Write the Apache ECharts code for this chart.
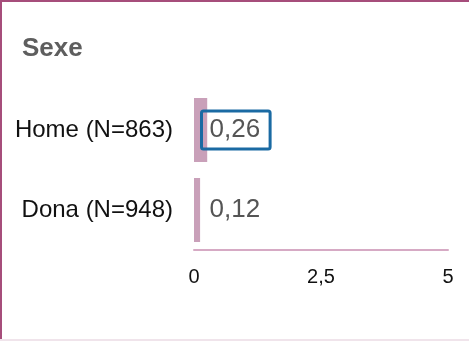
<!DOCTYPE html>
<html>
<head>
<meta charset="utf-8">
<script src="https://cdn.jsdelivr.net/npm/echarts@6/dist/echarts.min.js"></script>
<style>
html,body{margin:0;padding:0;background:#fff;}
#chart{width:469px;height:341px;}
</style>
</head>
<body>
<div id="chart"></div>
<script>
var title = 'Sexe';
var categories = ['Home (N=863)', 'Dona (N=948)'];
var values = [0.26, 0.12];
var highlighted = [true, false];
var axisMin = 0, axisMax = 5, axisInterval = 2.5;

function fmt(v){ return String(v).replace('.', ','); }

var chart = echarts.init(document.getElementById('chart'), null, {renderer:'canvas'});
var font = '"Liberation Sans", Arial, sans-serif';

var data = values.map(function(v, i){
  var item = {value: v};
  if (highlighted[i]) {
    item.label = {
      position: [7.5, '50%'],
      borderColor: '#1a6aa3',
      borderWidth: 3,
      borderRadius: 2,
      padding: [6, 10, 6, 8]
    };
  }
  return item;
});

chart.setOption({
  animation: false,
  title: {
    text: title,
    left: 22, top: 36, padding: 0,
    textStyle: {fontFamily: font, fontSize: 26, fontWeight: 'bold', color: '#5e5e5e'}
  },
  grid: {left: 194, right: 21, top: 90, bottom: 91, containLabel: false},
  xAxis: {
    type: 'value', min: axisMin, max: axisMax, interval: axisInterval,
    axisLine: {show: true, lineStyle: {color: '#d6aac4', width: 2}},
    axisTick: {show: false},
    splitLine: {show: false},
    axisLabel: {
      margin: 17, fontFamily: font, fontSize: 20, color: '#111',
      formatter: function(v){ return fmt(v); }
    }
  },
  yAxis: {
    type: 'category', data: categories, inverse: true,
    axisLine: {show: false}, axisTick: {show: false},
    axisLabel: {margin: 21, fontFamily: font, fontSize: 24, color: '#111'}
  },
  series: [{
    type: 'bar', data: data, barWidth: 64,
    itemStyle: {color: '#c9a0b9'},
    label: {
      show: true, position: [15.5, '50%'], align: 'left', verticalAlign: 'middle',
      fontFamily: font, fontSize: 26, color: '#555',
      formatter: function(p){ return fmt(p.value); }
    }
  }],
  graphic: [
    {type: 'rect', shape: {x: 0, y: 0, width: 469, height: 2}, style: {fill: '#a64d7b'}, z: 100},
    {type: 'rect', shape: {x: 0, y: 0, width: 2, height: 341}, style: {fill: '#a64d7b'}, z: 100},
    {type: 'rect', shape: {x: 0, y: 339, width: 469, height: 2}, style: {fill: '#f0e4eb'}, z: 100}
  ]
});
</script>
</body>
</html>
